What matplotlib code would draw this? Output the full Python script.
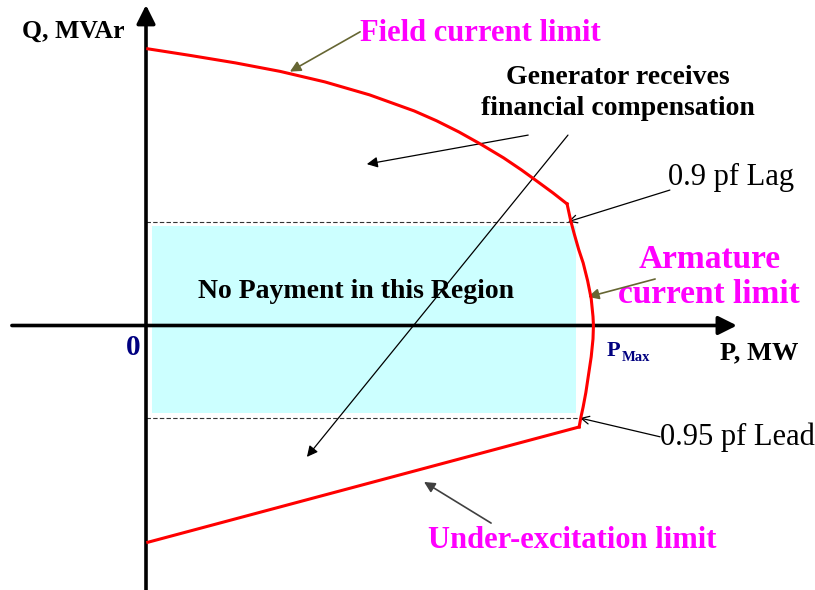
import matplotlib
matplotlib.use('Agg')
import matplotlib.pyplot as plt
from matplotlib.patches import Rectangle

plt.rcParams['font.family'] = ['Liberation Serif', 'DejaVu Serif']

# capability curve (P in MW, Q in MVAr; P max = 100)
field_p = [0.4, 10, 20, 30, 40, 50, 60, 65, 70, 75, 80, 84, 88, 91, 94.2]
field_q = [61.9, 60.4, 58.75, 56.85, 54.5, 51.6, 48.0, 45.8, 43.3, 40.5, 37.5, 34.8, 31.9, 29.7, 27.2]
arm_p = [94.2, 95.0, 95.8, 96.8, 97.8, 98.8, 99.6, 100.0, 100.1, 100.0, 99.6, 99.0,
         98.4, 97.8, 97.3, 96.9]
arm_q = [27.2, 23.5, 20.5, 17.0, 14.0, 10.0, 6.0, 2.0, 0.0, -3.0, -7.0, -11.0,
         -15.0, -18.2, -20.5, -22.7]
under_p = [96.9, 0.4]
under_q = [-22.7, -48.5]

lag_q = 23.2     # 0.9 pf lag
lead_q = -20.6   # 0.95 pf lead
lag_p = 95.3
lead_p = 97.3
box_p = [1.3, 96.2]
box_q = [-19.6, 22.3]

fig = plt.figure(figsize=(8.15, 5.9), dpi=100)
ax = fig.add_axes([0, 0, 1, 1])
ax.set_xlim(-146 / 4.47, (815 - 146) / 4.47)
ax.set_ylim(-(590 - 325.5) / 4.47, 325.5 / 4.47)
ax.axis('off')

# no payment region
ax.add_patch(Rectangle((box_p[0], box_q[0]), box_p[1] - box_p[0], box_q[1] - box_q[0],
                       facecolor='#ccffff', edgecolor='none', zorder=0))

ax.plot([0, lag_p], [lag_q, lag_q], color='#333333', lw=0.8, ls=(0, (4, 2)), zorder=1)
ax.plot([0, lead_p], [lead_q, lead_q], color='#333333', lw=0.8, ls=(0, (4, 2)), zorder=1)

# axes with arrows
ax.annotate('', xy=(0, 71.7), xytext=(0, -60), zorder=3,
            arrowprops=dict(arrowstyle='-|>', lw=2.6, color='black', mutation_scale=28, shrinkA=0, shrinkB=0))
ax.annotate('', xy=(132.2, 0), xytext=(-30, 0), zorder=3,
            arrowprops=dict(arrowstyle='-|>', lw=2.6, color='black', mutation_scale=28, shrinkA=0, shrinkB=0))

# limit curves
ax.plot(field_p, field_q, color='red', lw=2.2, zorder=4)
ax.plot(arm_p, arm_q, color='red', lw=2.2, zorder=4)
ax.plot(under_p, under_q, color='red', lw=2.2, zorder=4)

bold = dict(fontweight='bold')
mag = '#ff00ff'

ax.text(-16.3, 65.9, 'Q, MVAr', fontsize=18.5, ha='center', va='center', **bold)
ax.text(47.9, 65.4, 'Field current limit', fontsize=22, color=mag, ha='left', va='center', **bold)
ax.text(105.6, 52.0, 'Generator receives\nfinancial compensation', fontsize=20, ha='center',
        va='center', linespacing=1.3, **bold)
ax.text(116.8, 33.2, '0.9 pf Lag', fontsize=22, ha='left', va='center')
ax.text(126.0, 10.8, 'Armature\ncurrent limit', fontsize=24, color=mag, ha='center',
        va='center', linespacing=1.15, **bold)
ax.text(47.0, 7.5, 'No Payment in this Region', fontsize=20, ha='center', va='center', **bold)
ax.text(-2.9, -5.0, '0', fontsize=21, color='#000080', ha='center', va='center', **bold)
ax.text(103.1, -5.6, 'P', fontsize=16, color='#000080', ha='left', va='center', **bold)
ax.text(106.4, -7.2, 'Max', fontsize=10.5, color='#000080', ha='left', va='center', **bold)
ax.text(128.4, -6.2, 'P, MW', fontsize=19, ha='left', va='center', **bold)
ax.text(115.0, -24.9, '0.95 pf Lead', fontsize=22, ha='left', va='center')
ax.text(95.3, -48.2, 'Under-excitation limit', fontsize=22, color=mag, ha='center', va='center', **bold)

# pointers
olive = '#666633'
ax.annotate('', xy=(32.2, 56.8), xytext=(47.9, 65.7),
            arrowprops=dict(arrowstyle='-|>', color=olive, lw=1.2, mutation_scale=16, shrinkA=0, shrinkB=0))
ax.annotate('', xy=(98.9, 6.4), xytext=(113.9, 10.4),
            arrowprops=dict(arrowstyle='-|>', color=olive, lw=1.2, mutation_scale=16, shrinkA=0, shrinkB=0))
ax.annotate('', xy=(62.2, -35.0), xytext=(77.2, -44.2),
            arrowprops=dict(arrowstyle='-|>', color='#404040', lw=1.2, mutation_scale=16, shrinkA=0, shrinkB=0))
ax.annotate('', xy=(94.4, 23.2), xytext=(117.2, 30.3),
            arrowprops=dict(arrowstyle='->', color='black', lw=0.9, mutation_scale=14, shrinkA=0, shrinkB=0))
ax.annotate('', xy=(97.1, -20.7), xytext=(115.0, -24.9),
            arrowprops=dict(arrowstyle='->', color='black', lw=0.9, mutation_scale=14, shrinkA=0, shrinkB=0))
ax.annotate('', xy=(49.4, 36.1), xytext=(85.5, 42.6),
            arrowprops=dict(arrowstyle='-|>', color='black', lw=0.9, mutation_scale=16, shrinkA=0, shrinkB=0))
ax.annotate('', xy=(36.0, -29.4), xytext=(94.4, 42.6),
            arrowprops=dict(arrowstyle='-|>', color='black', lw=0.9, mutation_scale=16, shrinkA=0, shrinkB=0))

fig.savefig('out.png', dpi=100)
